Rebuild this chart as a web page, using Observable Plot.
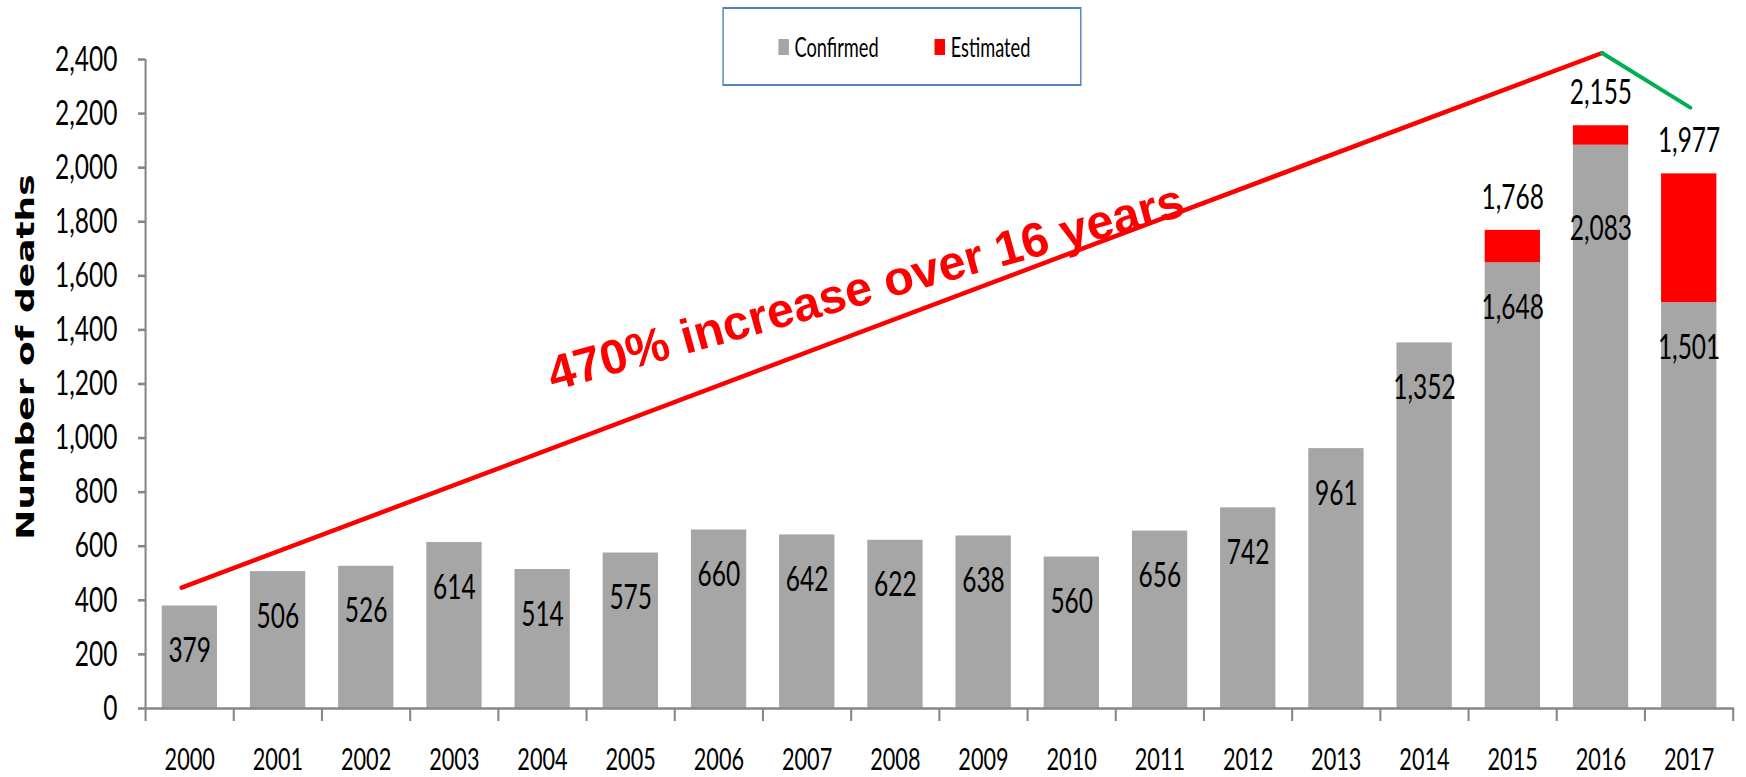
<!DOCTYPE html>
<html>
<head>
<meta charset="utf-8">
<script src="https://cdn.jsdelivr.net/npm/d3@7"></script>
<script src="https://cdn.jsdelivr.net/npm/@observablehq/plot@0.6"></script>
<style>
  html, body { margin: 0; padding: 0; background: #fff; overflow: hidden; }
  #wrap { position: relative; width: 1746px; height: 777px; overflow: hidden; background: #fff; }
  #squeeze { position: absolute; left: 0; top: 0; width: 2494px; height: 777px; transform: scaleX(0.7); transform-origin: 0 0; }
  #legend { position: absolute; left: 1032px; top: 7px; border: 2.5px solid #4F81BD;
            display: flex; align-items: center; font-family: Lato, sans-serif; font-size: 26px; color: #000;
            padding-left: 78px; box-sizing: border-box; width: 513px; height: 79px; }
  .item { display: flex; align-items: center; margin-right: 80px; }
  .sw { width: 15px; height: 16px; margin-right: 8px; }
  #overlay { position: absolute; left: 0; top: 0; width: 1746px; height: 777px; pointer-events: none; }
</style>
</head>
<body>
<div id="wrap">
  <div id="squeeze"><div id="chart"></div><div id="legend"></div></div>
  <div id="overlay"></div>
</div>
<script>
// ---- data ----
const years = ["2000","2001","2002","2003","2004","2005","2006","2007","2008","2009","2010","2011","2012","2013","2014","2015","2016","2017"];
const confirmed = [379,506,526,614,514,575,660,642,622,638,560,656,742,961,1352,1648,2083,1501];
const estimated = [0,0,0,0,0,0,0,0,0,0,0,0,0,0,0,120,72,476];
const totalYears = ["2015","2016","2017"];
const totals = [1768,2155,1977];
const seriesNames = ["Confirmed","Estimated"];
const seriesColors = ["#A6A6A6","#FF0000"];
const yTicks = [0,200,400,600,800,1000,1200,1400,1600,1800,2000,2200,2400];
const yTitle = "Number of deaths";
// annotation lines (x as position along the year axis)
const trendX = [1999.91, 2016];
const trendValues = [447, 2424];
const declineX = [2016, 2017];
const declineValues = [2424, 2222];
const annotationText = "470% increase over 16 years";
const annotationX = 2007.66;
const annotationValue = 1555;
const shiftedLabelYear = "2016";

// ---- layout ----
const K = 0.7, W = 1746, H = 777;
const mL = 145, mR = 12, mT = 59, mB = 69;
const WP = W / K, mLP = mL / K, mRP = mR / K;
const stepP = (WP - mLP - mRP) / years.length;
const axisColor = "#878787";
const fmt = d3.format(",");

const rows = [];
years.forEach((y, i) => {
  rows.push({year: y, series: seriesNames[0], value: confirmed[i]});
  if (estimated[i] > 0) rows.push({year: y, series: seriesNames[1], value: estimated[i]});
});
const confRows = years.map((y, i) => ({year: y, value: confirmed[i]}));
const totalRows = totalYears.map((y, i) => ({year: y, value: totals[i]}));

const xScale = {domain: years, paddingInner: 0.37, paddingOuter: 0.185};
const yScale = {domain: [0, 2400]};

const chart = Plot.plot({
  width: WP, height: H,
  marginLeft: mLP, marginRight: mRP, marginTop: mT, marginBottom: mB,
  x: xScale, y: yScale,
  color: {domain: seriesNames, range: seriesColors},
  style: {fontFamily: "Lato, sans-serif", background: "white", maxWidth: "none", overflow: "visible"},
  marks: [
    Plot.barY(rows, {x: "year", y: "value", fill: "series"}),
    Plot.ruleY([0], {stroke: axisColor, strokeWidth: 2.6}),
    Plot.ruleX([years[0]], {x: d => d, y1: 0, y2: 2400, dx: -stepP / 2, stroke: axisColor, strokeWidth: 3}),
    Plot.axisX({tickSize: 13, tickFormat: () => "", dx: -stepP / 2, stroke: axisColor, strokeWidth: 3, label: null}),
    Plot.axisX({ticks: [years[years.length - 1]], tickSize: 13, tickFormat: () => "", dx: stepP / 2, stroke: axisColor, strokeWidth: 3, label: null}),
    Plot.axisX({tickSize: 0, tickPadding: 40, fontSize: 31, fill: "#000", label: null}),
    Plot.axisY({ticks: yTicks, tickSize: 10, tickPadding: 30, tickFormat: fmt, fontSize: 35, fill: "#000", stroke: axisColor, strokeWidth: 2.6, label: null}),
    Plot.text(confRows.filter(d => d.year !== shiftedLabelYear), {x: "year", y: "value", text: d => fmt(d.value), dy: 45, fontSize: 35, fill: "#000"}),
    Plot.text(confRows.filter(d => d.year === shiftedLabelYear), {x: "year", y: "value", text: d => fmt(d.value), dy: 84, fontSize: 35, fill: "#000"}),
    Plot.text(totalRows, {x: "year", y: "value", text: d => fmt(d.value), dy: -33, fontSize: 35, fill: "#000"}),
    Plot.text([yTitle], {text: d => d, frameAnchor: "left", textAnchor: "middle", rotate: -90, dx: -171, dy: -27, fontSize: 36, fontWeight: "bold", fontFamily: "DejaVu Sans, Verdana, sans-serif", fill: "#000"})
  ]
});
document.getElementById("chart").appendChild(chart);

// legend
const legend = document.getElementById("legend");
seriesNames.forEach((name, i) => {
  const item = document.createElement("div");
  item.className = "item";
  const sw = document.createElement("span");
  sw.className = "sw";
  sw.style.background = seriesColors[i];
  const lab = document.createElement("span");
  lab.textContent = name;
  item.appendChild(sw); item.appendChild(lab);
  legend.appendChild(item);
});

// overlay annotation (not squeezed); linear year axis aligned with the bands
const trendRows = trendX.map((x, i) => ({x, value: trendValues[i]}));
const declineRows = declineX.map((x, i) => ({x, value: declineValues[i]}));
const overlay = Plot.plot({
  width: W, height: H,
  marginLeft: mL, marginRight: mR, marginTop: mT, marginBottom: mB,
  x: {type: "linear", domain: [+years[0] - 0.5, +years[years.length - 1] + 0.5], axis: null},
  y: {...yScale, axis: null},
  style: {background: "transparent", maxWidth: "none", overflow: "visible"},
  marks: [
    Plot.line(trendRows, {x: "x", y: "value", stroke: "#FF0000", strokeWidth: 4.5}),
    Plot.line(declineRows, {x: "x", y: "value", stroke: "#00B050", strokeWidth: 4}),
    Plot.text([annotationText], {text: d => d, x: () => annotationX, y: () => annotationValue, rotate: -15.5,
      fontSize: 48.5, fontWeight: "bold", fontFamily: "Liberation Sans, Arial, sans-serif", fill: "#FF0000"})
  ]
});
document.getElementById("overlay").appendChild(overlay);
</script>
</body>
</html>
